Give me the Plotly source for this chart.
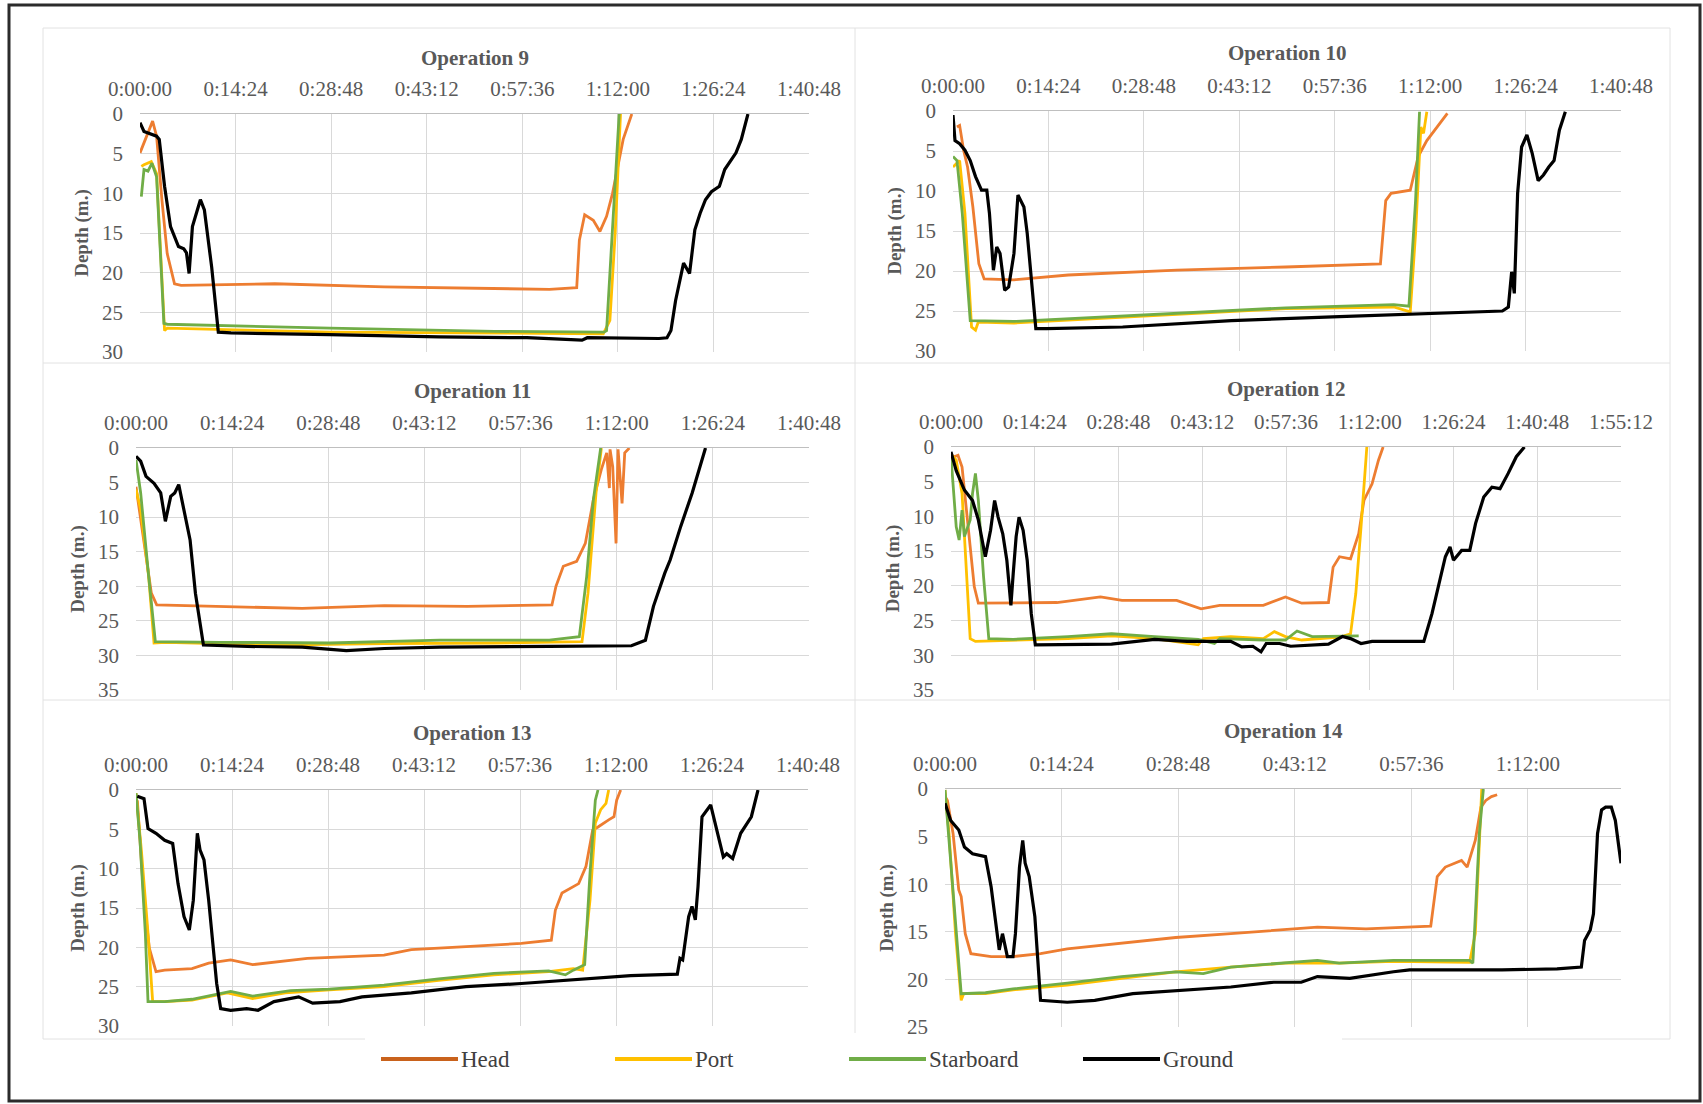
import plotly.graph_objects as go

# ---------------- data (time in minutes, depth in metres) ----------------
TIME_TICK_LABELS = ["0:00:00", "0:14:24", "0:28:48", "0:43:12", "0:57:36",
                    "1:12:00", "1:26:24", "1:40:48", "1:55:12"]
TICK_STEP_MIN = 14.4

SERIES_NAMES = ["Head", "Port", "Starboard", "Ground"]
SERIES_COLORS = ["#ED7D31", "#FFC000", "#70AD47", "#000000"]
LEGEND_COLORS = ["#C9621C", "#FFC000", "#70AD47", "#000000"]

OPERATION_TITLES = ["Operation 9", "Operation 10", "Operation 11",
                    "Operation 12", "Operation 13", "Operation 14"]
X_MAX_MIN = [100.8, 100.8, 100.8, 115.2, 100.8, 83.5]
X_TICK_COUNT = [8, 8, 8, 9, 8, 6]
Y_MAX_M = [30, 30, 35, 35, 30, 25]

# Operation 9
op9_head_t = [0, 1.9, 2.5, 3.3, 4.1, 5.2, 6.2, 20.3, 36.8, 50.1, 61.7, 65.8, 66.2, 67.0, 68.3, 69.3, 70.3, 71.2, 72.0, 72.8, 74.1]
op9_head_d = [4.9, 0.9, 2.8, 10.8, 17.6, 21.4, 21.6, 21.4, 21.8, 22.0, 22.1, 21.9, 15.9, 12.7, 13.4, 14.8, 12.9, 10.0, 6.6, 3.2, 0]
op9_port_t = [0.2, 0.6, 1.7, 2.5, 3.7, 4.1, 28.6, 61.7, 69.8, 70.8, 71.6, 72.4]
op9_port_d = [6.6, 6.4, 6.0, 7.5, 27.3, 27.0, 27.5, 27.7, 27.7, 26.0, 15.0, 0]
op9_star_t = [0.2, 0.6, 1.2, 1.8, 2.5, 3.6, 4.1, 28.6, 53.4, 69.9, 70.3, 71.2, 72.2]
op9_star_d = [10.4, 7.0, 7.2, 6.2, 7.9, 26.4, 26.5, 27.0, 27.4, 27.5, 27.3, 15.0, 0]
op9_ground_t = [0, 0.6, 2.5, 2.9, 3.7, 4.6, 5.8, 6.6, 7.0, 7.4, 7.9, 9.1, 9.7, 10.8, 11.8, 13.7, 28.5, 45.1, 58.3, 66.6, 67.4, 78.2, 79.4, 80.0, 80.7, 81.9, 82.8, 83.6, 84.4, 85.2, 86.1, 87.3, 88.1, 89.8, 90.6, 91.6]
op9_ground_d = [1.1, 2.2, 2.8, 3.2, 9.1, 14.2, 16.7, 17.0, 17.5, 20.1, 14.2, 10.8, 12.1, 19.3, 27.5, 27.6, 27.8, 28.1, 28.2, 28.5, 28.2, 28.3, 28.2, 27.3, 23.5, 18.8, 20.1, 14.6, 12.5, 10.8, 9.8, 9.1, 7.0, 4.9, 3.2, 0]

# Operation 10
op10_head_t = [0.6, 1.0, 1.6, 2.2, 3.0, 3.9, 4.7, 9.2, 17.4, 33.8, 50.2, 64.5, 65.3, 66.1, 69.0, 70.2, 71.5, 73.1, 74.6]
op10_head_d = [2.0, 1.8, 4.9, 7.0, 12.0, 19.1, 21.0, 21.1, 20.5, 19.9, 19.5, 19.1, 11.2, 10.3, 9.9, 5.7, 3.7, 2.0, 0.3]
op10_port_t = [0, 1.0, 1.8, 2.8, 3.4, 3.8, 9.2, 25.6, 50.2, 66.5, 69.0, 69.8, 70.6, 71.0, 71.5]
op10_port_d = [7.0, 6.2, 12.8, 27.0, 27.4, 26.4, 26.5, 25.8, 24.7, 24.5, 25.1, 15.3, 2.0, 2.8, 0.1]
op10_star_t = [0, 0.6, 1.4, 2.6, 9.2, 25.6, 50.2, 66.5, 68.8, 69.8, 70.4]
op10_star_d = [5.7, 6.2, 12.8, 26.2, 26.3, 25.6, 24.6, 24.2, 24.4, 11.2, 0.1]
op10_ground_t = [0, 0.3, 1.0, 1.8, 2.6, 3.4, 4.3, 5.1, 5.5, 6.1, 6.6, 7.1, 7.8, 8.4, 9.2, 9.8, 10.7, 11.2, 12.5, 14.1, 25.6, 42.0, 58.3, 74.7, 82.9, 83.8, 84.3, 84.7, 85.2, 85.8, 86.6, 87.4, 88.3, 89.1, 89.9, 90.7, 91.5, 92.4]
op10_ground_d = [0.5, 3.7, 4.1, 4.9, 6.2, 8.2, 9.9, 9.9, 12.8, 19.9, 17.0, 17.8, 22.4, 22.0, 17.8, 10.5, 12.0, 15.3, 27.2, 27.2, 27.0, 26.2, 25.7, 25.2, 25.0, 24.5, 20.1, 22.8, 10.3, 4.5, 3.0, 5.3, 8.7, 8.0, 7.0, 6.2, 2.4, 0.1]

# Operation 11
op11_head_t = [0, 0.5, 1.2, 2.3, 3.1, 12.6, 24.9, 37.2, 49.6, 62.3, 62.9, 64.0, 66.0, 67.3, 68.5, 69.7, 70.5, 70.9, 71.0, 71.4, 71.9, 72.2, 72.8, 73.2, 73.9]
op11_head_d = [5.6, 8.9, 13.8, 21.0, 22.7, 22.9, 23.2, 22.8, 22.9, 22.7, 20.0, 17.1, 16.4, 13.8, 7.5, 3.1, 0.7, 5.8, 0.2, 2.7, 13.8, 0.2, 8.0, 0.7, 0]
op11_port_t = [0, 0.7, 1.9, 2.7, 4.4, 20.8, 37.2, 53.7, 66.8, 67.7, 68.9, 69.7]
op11_port_d = [6.0, 8.9, 18.6, 28.2, 28.1, 28.5, 28.3, 28.2, 28.0, 21.0, 6.5, 0]
op11_star_t = [0, 0.7, 1.9, 2.9, 12.6, 29.0, 45.5, 61.9, 66.4, 67.5, 68.5, 69.6]
op11_star_d = [1.7, 6.5, 18.6, 28.0, 28.1, 28.2, 27.8, 27.8, 27.3, 18.6, 7.5, 0]
op11_ground_t = [0, 0.7, 1.5, 2.7, 3.7, 4.4, 5.2, 5.8, 6.4, 7.0, 8.1, 8.9, 10.1, 16.7, 24.9, 31.5, 37.2, 45.5, 53.7, 61.9, 74.2, 76.3, 77.5, 79.2, 80.0, 81.6, 83.3, 84.5, 85.3]
op11_ground_d = [1.2, 1.9, 4.1, 5.1, 6.5, 10.6, 7.0, 6.5, 5.3, 8.0, 13.3, 21.0, 28.5, 28.7, 28.8, 29.3, 29.0, 28.8, 28.8, 28.7, 28.6, 27.8, 22.9, 18.1, 16.2, 11.3, 6.5, 2.7, 0]

# Operation 12
op12_head_t = [0.5, 1.2, 1.9, 2.5, 3.3, 4.0, 4.7, 10.7, 18.2, 25.7, 29.4, 38.8, 43.0, 46.2, 53.7, 57.5, 60.3, 64.9, 65.7, 66.8, 68.7, 70.1, 71.0, 72.4, 73.5, 74.3]
op12_head_d = [1.4, 1.2, 2.9, 7.7, 14.4, 20.1, 22.5, 22.5, 22.4, 21.6, 22.1, 22.1, 23.3, 22.8, 22.8, 21.6, 22.5, 22.4, 17.3, 15.8, 16.1, 12.5, 7.7, 5.3, 1.9, 0]
op12_port_t = [0, 0.9, 1.9, 2.5, 3.3, 4.2, 10.7, 20.1, 27.6, 35.0, 42.5, 43.4, 48.1, 53.7, 55.6, 57.5, 60.3, 66.8, 68.7, 69.6, 70.5, 71.5]
op12_port_d = [1.0, 1.9, 6.7, 16.3, 27.6, 28.0, 27.8, 27.6, 27.2, 27.6, 28.5, 27.6, 27.3, 27.6, 26.6, 27.3, 27.8, 27.4, 26.9, 21.1, 11.5, 0]
op12_star_t = [0, 0.5, 0.9, 1.4, 1.9, 2.3, 3.3, 3.7, 4.2, 4.7, 5.6, 6.5, 10.7, 20.1, 27.6, 35.0, 42.5, 45.3, 46.2, 53.7, 57.5, 59.5, 62.1, 70.1]
op12_star_d = [1.4, 6.7, 11.5, 13.4, 9.1, 12.9, 10.5, 6.7, 3.8, 7.7, 18.7, 27.6, 27.7, 27.3, 26.9, 27.3, 27.7, 28.3, 27.6, 27.8, 27.8, 26.5, 27.3, 27.2]
op12_ground_t = [0, 0.9, 2.3, 3.7, 4.7, 5.9, 6.8, 7.5, 8.1, 8.9, 9.6, 10.3, 10.7, 11.2, 11.7, 12.4, 13.1, 13.8, 14.5, 20.1, 27.6, 35.0, 40.6, 48.1, 50.0, 51.9, 53.3, 54.2, 56.5, 58.4, 64.9, 67.3, 68.7, 70.5, 72.4, 76.1, 81.3, 82.7, 84.1, 85.0, 85.8, 86.4, 87.8, 89.2, 90.2, 91.6, 93.0, 94.4, 95.8, 97.2, 98.6]
op12_ground_d = [0.7, 3.4, 6.2, 7.7, 10.5, 15.8, 12.0, 7.7, 10.1, 12.5, 16.3, 22.8, 18.2, 12.9, 10.1, 12.0, 16.3, 24.0, 28.5, 28.5, 28.4, 27.7, 28.0, 28.0, 28.8, 28.7, 29.5, 28.3, 28.3, 28.7, 28.4, 27.3, 27.6, 28.3, 28.0, 28.0, 28.0, 24.0, 19.2, 15.8, 14.4, 16.3, 14.9, 14.9, 11.0, 7.2, 5.8, 6.0, 3.8, 1.4, 0]

# Operation 13
op13_head_t = [0.2, 1.2, 2.0, 3.0, 4.3, 8.4, 10.9, 14.2, 17.5, 21.6, 25.7, 37.2, 41.3, 49.5, 57.8, 62.3, 62.9, 63.9, 66.4, 67.5, 68.5, 69.3, 70.1, 70.9, 71.7, 72.1, 72.7]
op13_head_d = [1.3, 14.0, 20.1, 23.1, 22.9, 22.7, 22.0, 21.6, 22.2, 21.8, 21.4, 21.0, 20.3, 19.9, 19.5, 19.1, 15.3, 13.1, 11.9, 9.7, 5.1, 4.7, 4.2, 3.8, 3.4, 1.3, 0]
op13_port_t = [0, 0.8, 1.8, 2.5, 4.3, 8.4, 13.7, 17.5, 22.4, 29.0, 37.2, 45.4, 53.7, 61.9, 65.6, 67.0, 68.1, 68.9, 69.7, 70.5, 70.9]
op13_port_d = [0.4, 7.6, 18.2, 26.9, 26.9, 26.7, 25.8, 26.5, 25.8, 25.4, 25.0, 24.2, 23.5, 23.1, 22.7, 22.9, 14.0, 4.2, 2.5, 1.7, 0]
op13_star_t = [0, 0.6, 1.4, 1.8, 4.3, 8.4, 14.2, 17.5, 23.2, 29.0, 37.2, 45.4, 53.7, 61.9, 64.4, 65.6, 67.3, 68.1, 68.9, 69.3]
op13_star_d = [0.4, 6.4, 18.2, 26.9, 26.9, 26.6, 25.6, 26.2, 25.5, 25.3, 24.8, 24.0, 23.3, 23.0, 23.5, 22.9, 22.2, 10.6, 1.3, 0]
op13_ground_t = [0.2, 1.2, 1.8, 3.0, 4.3, 5.5, 6.3, 7.2, 8.0, 8.6, 9.2, 9.6, 10.2, 10.9, 12.1, 12.7, 14.2, 16.6, 18.3, 20.7, 24.4, 26.5, 30.6, 33.9, 41.3, 49.5, 57.8, 66.0, 74.2, 81.2, 81.6, 82.0, 82.9, 83.4, 83.9, 84.3, 84.9, 86.2, 87.0, 88.1, 88.6, 89.5, 90.7, 92.3, 93.3]
op13_ground_d = [0.8, 1.1, 4.9, 5.5, 6.4, 6.8, 11.9, 16.1, 17.8, 14.0, 5.5, 7.6, 8.9, 14.0, 24.6, 27.8, 28.0, 27.8, 28.0, 26.9, 26.3, 27.1, 26.9, 26.3, 25.8, 25.0, 24.6, 24.1, 23.6, 23.4, 21.4, 21.6, 16.1, 14.8, 16.5, 12.3, 3.4, 1.9, 4.7, 8.5, 8.1, 8.7, 5.5, 3.4, 0]

# Operation 14
op14_head_t = [0, 0.3, 1.0, 1.7, 2.0, 2.5, 3.2, 5.7, 8.4, 11.8, 15.1, 21.8, 28.5, 35.3, 42.0, 46.0, 52.0, 60.0, 60.8, 61.8, 63.8, 64.5, 65.5, 66.2, 66.8, 67.5, 68.2]
op14_head_d = [0.8, 1.2, 4.7, 10.6, 11.3, 15.2, 17.3, 17.6, 17.6, 17.3, 16.8, 16.2, 15.6, 15.2, 14.8, 14.5, 14.7, 14.4, 9.2, 8.2, 7.5, 8.2, 5.4, 1.9, 1.2, 0.8, 0.6]
op14_port_t = [0, 0.5, 1.3, 2.0, 2.3, 5.0, 8.4, 15.1, 21.8, 28.5, 35.3, 42.0, 48.7, 55.4, 64.8, 65.5, 66.3]
op14_port_d = [0.1, 4.7, 15.2, 22.2, 21.5, 21.5, 21.1, 20.6, 19.9, 19.2, 18.7, 18.3, 18.3, 18.1, 18.2, 15.2, 0]
op14_star_t = [0, 0.5, 2.0, 5.0, 8.4, 15.1, 21.8, 28.5, 31.9, 35.3, 42.0, 46.0, 48.7, 55.4, 64.8, 65.2, 65.5, 66.0, 66.5]
op14_star_d = [0.1, 5.4, 21.5, 21.4, 21.0, 20.4, 19.7, 19.2, 19.4, 18.7, 18.3, 18.0, 18.3, 18.0, 18.0, 18.3, 13.4, 4.7, 0]
op14_ground_t = [0, 0.7, 1.7, 2.4, 3.4, 5.0, 5.7, 6.4, 6.7, 7.1, 7.7, 8.4, 8.7, 9.2, 9.6, 9.9, 10.4, 11.1, 11.8, 15.1, 18.5, 23.2, 29.9, 35.3, 40.6, 44.0, 46.0, 50.0, 55.4, 57.4, 62.1, 68.8, 75.6, 78.6, 79.0, 79.7, 80.1, 80.6, 81.1, 81.6, 82.3, 82.8, 83.5]
op14_ground_d = [1.5, 3.3, 4.3, 6.1, 6.8, 7.1, 10.3, 14.8, 16.9, 15.2, 17.6, 17.6, 15.2, 8.2, 5.4, 7.8, 9.2, 13.4, 22.2, 22.4, 22.2, 21.5, 21.1, 20.8, 20.3, 20.3, 19.7, 19.9, 19.2, 19.0, 19.0, 19.0, 18.9, 18.7, 15.9, 14.8, 13.1, 4.7, 2.2, 1.9, 1.9, 3.3, 7.8]

OPERATION_SERIES = [
    [(op9_head_t, op9_head_d), (op9_port_t, op9_port_d), (op9_star_t, op9_star_d), (op9_ground_t, op9_ground_d)],
    [(op10_head_t, op10_head_d), (op10_port_t, op10_port_d), (op10_star_t, op10_star_d), (op10_ground_t, op10_ground_d)],
    [(op11_head_t, op11_head_d), (op11_port_t, op11_port_d), (op11_star_t, op11_star_d), (op11_ground_t, op11_ground_d)],
    [(op12_head_t, op12_head_d), (op12_port_t, op12_port_d), (op12_star_t, op12_star_d), (op12_ground_t, op12_ground_d)],
    [(op13_head_t, op13_head_d), (op13_port_t, op13_port_d), (op13_star_t, op13_star_d), (op13_ground_t, op13_ground_d)],
    [(op14_head_t, op14_head_d), (op14_port_t, op14_port_d), (op14_star_t, op14_star_d), (op14_ground_t, op14_ground_d)],
]

# ---------------- layout (pixel boxes of each plot area) ----------------
W, H = 1703, 1104
PLOT_BOXES = [  # left, top, right, bottom
    (140, 114, 809, 352),
    (953, 111, 1621, 351),
    (136, 448, 809, 690),
    (951, 447, 1621, 690),
    (136, 790, 808, 1026),
    (945, 789, 1621, 1027),
]
TITLE_Y = [58, 53, 391, 389, 733, 731]

SERIF = "Liberation Serif"
TXT = "#595959"
GRID = "#D9D9D9"


def px(x):
    return x / W


def py(y):
    return 1 - y / H


fig = go.Figure()
annotations = []
shapes = []

for i in range(6):
    xa = "x" if i == 0 else f"x{i + 1}"
    ya = "y" if i == 0 else f"y{i + 1}"
    for s, (t, d) in enumerate(OPERATION_SERIES[i]):
        fig.add_trace(go.Scatter(
            x=t, y=d, mode="lines", name=SERIES_NAMES[s],
            line=dict(color=SERIES_COLORS[s], width=3.2 if s == 3 else 2.8),
            xaxis=xa, yaxis=ya, showlegend=False,
        ))
    l, t_, r, b = PLOT_BOXES[i]
    n = X_TICK_COUNT[i]
    xkey = "xaxis" if i == 0 else f"xaxis{i + 1}"
    ykey = "yaxis" if i == 0 else f"yaxis{i + 1}"
    fig.layout[xkey] = dict(
        domain=[px(l), px(r)], range=[0, X_MAX_MIN[i]], side="top", anchor=ya,
        tickmode="array", tickvals=[k * TICK_STEP_MIN for k in range(n)],
        ticktext=TIME_TICK_LABELS[:n], showgrid=True, gridcolor=GRID, gridwidth=1,
        zeroline=False, showline=True, linecolor="#BFBFBF", linewidth=1, ticks="",
        tickfont=dict(family=SERIF, size=21, color=TXT), ticklabelstandoff=9,
        automargin=False, fixedrange=True,
    )
    fig.layout[ykey] = dict(
        domain=[py(b), py(t_)], range=[Y_MAX_M[i], 0], anchor=xa,
        tickmode="array", tickvals=list(range(0, Y_MAX_M[i] + 1, 5)),
        showgrid=True, gridcolor=GRID, gridwidth=1, zeroline=False, showline=False,
        ticks="", tickfont=dict(family=SERIF, size=21, color=TXT), ticklabelstandoff=16,
        title=dict(text="Depth (m.)", font=dict(family=SERIF, size=19, color=TXT, weight="bold"),
                   standoff=8),
        automargin=False, fixedrange=True,
    )
    annotations.append(dict(
        text=OPERATION_TITLES[i], x=px((l + r) / 2), y=py(TITLE_Y[i]), xref="paper", yref="paper",
        xanchor="center", yanchor="middle", showarrow=False,
        font=dict(family=SERIF, size=21, color=TXT, weight="bold"),
    ))

# legend (drawn manually to match long key lines)
LEG_X0, LEG_STEP, LEG_LEN, LEG_Y = 381, 234, 77, 1059
for s, name in enumerate(SERIES_NAMES):
    x0 = LEG_X0 + s * LEG_STEP
    shapes.append(dict(type="line", xref="paper", yref="paper",
                       x0=px(x0), x1=px(x0 + LEG_LEN), y0=py(LEG_Y), y1=py(LEG_Y),
                       line=dict(color=LEGEND_COLORS[s], width=4)))
    annotations.append(dict(text=name, x=px(x0 + LEG_LEN + 1), y=py(LEG_Y), xref="paper", yref="paper",
                            xanchor="left", yanchor="middle", showarrow=False,
                            font=dict(family=SERIF, size=23, color="#404040")))

# faint chart-area borders
PANEL = "#E2E2E2"
for (x0, y0, x1, y1) in [(43, 28, 1670, 28), (43, 363, 1670, 363), (43, 700, 1670, 700),
                         (43, 28, 43, 1039), (1670, 28, 1670, 1039), (855, 28, 855, 1033),
                         (43, 1039, 365, 1039), (1342, 1039, 1670, 1039)]:
    shapes.append(dict(type="line", xref="paper", yref="paper", x0=px(x0), x1=px(x1),
                       y0=py(y0), y1=py(y1), line=dict(color=PANEL, width=1)))

# outer frame
shapes.append(dict(type="rect", xref="paper", yref="paper", x0=px(9), x1=px(1700),
                   y0=py(1101), y1=py(5), line=dict(color="#2B2B2B", width=3)))

fig.update_layout(
    width=W, height=H, margin=dict(l=0, r=0, t=0, b=0, pad=0),
    paper_bgcolor="white", plot_bgcolor="white",
    showlegend=False, annotations=annotations, shapes=shapes,
    font=dict(family=SERIF, color=TXT),
)

fig.write_html("out.html")
